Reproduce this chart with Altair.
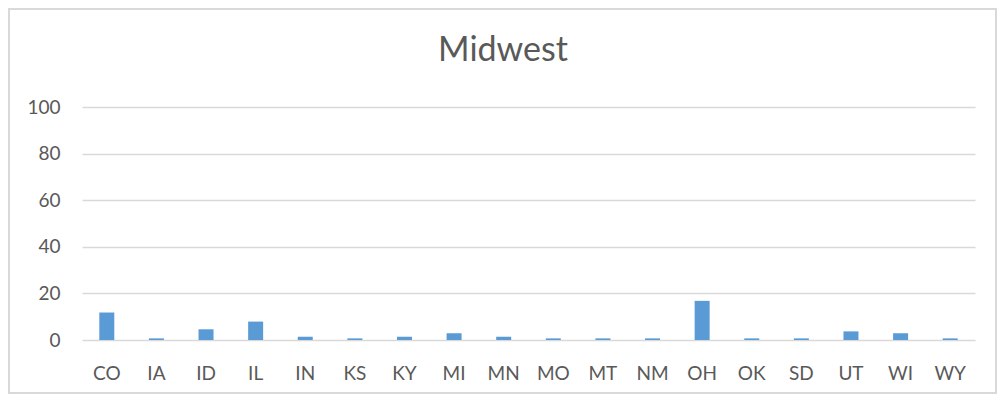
import altair as alt
import pandas as pd

states = ["CO", "IA", "ID", "IL", "IN", "KS", "KY", "MI", "MN", "MO", "MT", "NM", "OH", "OK", "SD", "UT", "WI", "WY"]
values = [11.8, 0.7, 4.6, 7.9, 1.4, 0.7, 1.4, 2.9, 1.4, 0.7, 0.7, 0.7, 16.8, 0.7, 0.7, 3.7, 2.9, 0.7]
y_ticks = [0, 20, 40, 60, 80, 100]
title_text = ["Midwest"]

df = pd.DataFrame({"state": states, "value": values})
tdf = pd.DataFrame({"t": title_text})

FONT = "Lato"
GRAY = "#595959"

bars = alt.Chart(df).mark_bar(color="#5B9BD5", size=15).encode(
    x=alt.X("state:N", sort=states, title=None,
            scale=alt.Scale(paddingInner=0, paddingOuter=0),
            axis=alt.Axis(labelAngle=0, labelFontSize=19, labelColor=GRAY, labelFont=FONT,
                          labelPadding=24, ticks=False, domain=False, grid=False)),
    y=alt.Y("value:Q", title=None,
            scale=alt.Scale(domain=[0, 100], nice=False),
            axis=alt.Axis(values=y_ticks, labelFontSize=19, labelColor=GRAY, labelFont=FONT,
                          labelPadding=22, ticks=False, domain=False,
                          gridColor="#D9D9D9", gridWidth=1.3)),
)

title = alt.Chart(tdf).mark_text(fontSize=34, font=FONT, color=GRAY, align="center",
                                 baseline="middle").encode(
    text="t:N", x=alt.value(421), y=alt.value(-56)
)

border = alt.Chart(df).mark_rect(fill=None, stroke="#D9D9D9", strokeWidth=1.5, clip=False).encode(
    x=alt.value(-73), x2=alt.value(914), y=alt.value(-98), y2=alt.value(286)
)

chart = alt.layer(border, bars, title).properties(
    width=893, height=233,
    autosize=alt.AutoSizeParams(type="none"),
    padding={"left": 74, "top": 99, "right": 22, "bottom": 54},
).configure_view(stroke=None)

chart.save("out.html", embed_options={"renderer": "svg", "actions": False})
